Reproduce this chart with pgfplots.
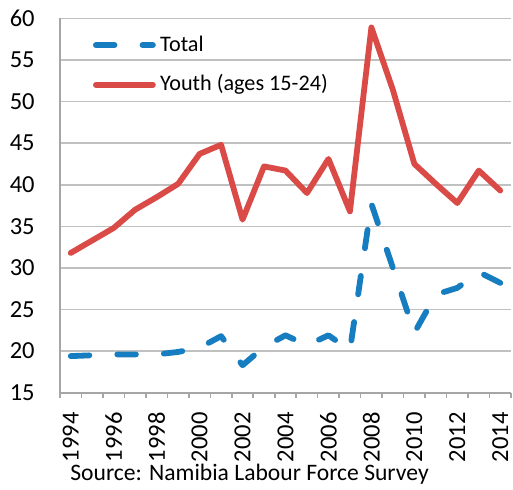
\documentclass[border=0pt]{standalone}
\usepackage{pgfplots}
\pgfplotsset{compat=1.18}
\usepackage{fontspec}
\setmainfont{Carlito}
\definecolor{cblue}{RGB}{22,125,192}
\definecolor{cred}{RGB}{218,75,72}
\definecolor{cgrid}{RGB}{192,192,192}
\definecolor{caxis}{RGB}{166,166,166}
\begin{document}
\fontsize{12.25}{14.7}\selectfont
\begin{tikzpicture}
\useasboundingbox (-30pt,-48.15pt) rectangle (226.5pt,196.35pt);
\begin{axis}[
  at={(0,0)}, anchor=south west,
  scale only axis, width=225.5pt, height=187.2pt,
  xmin=1993.5, xmax=2014.5, ymin=15, ymax=60,
  axis lines*=left,
  axis line style={draw=caxis, line width=0.8pt, -},
  ytick={15,20,...,60},
  xtick={1994,1996,...,2014},
  minor xtick={1993.5,1994.5,...,2014.5},
  major tick length=0pt, minor tick length=2.5pt,
  tick align=outside,
  minor tick style={draw=caxis, line width=0.8pt},
  ymajorgrids, grid style={draw=cgrid, line width=0.8pt},
  /pgf/number format/assume math mode=true,
  /pgf/number format/1000 sep={},
  ticklabel style={font=\fontsize{12.25}{14.7}\selectfont},
  yticklabel style={inner sep=0pt, anchor=east, xshift=-12.5pt},
  xticklabel style={inner sep=0pt, rotate=90, anchor=east, xshift=-9.65pt},
  legend style={draw=none, fill=none, at={([xshift=16.5pt,yshift=-7.3pt]rel axis cs:0,1)}, anchor=north west,
    inner sep=0pt, outer sep=0pt, row sep=7.6pt, column sep=2.2pt,
    nodes={inner sep=0pt, text height=0.75em, text depth=0.25em, font=\fontsize{11.1}{13.3}\selectfont}},
  legend cell align=left,
  legend image code/.code={\draw[#1] (0pt,0pt) -- (28.5pt,0pt);},
  clip=false,
]
\addplot[cblue, line width=2.9pt, line cap=round, line join=round, dash pattern=on 9.3pt off 14pt] coordinates {
(1994,19.4) (1995,19.5) (1996,19.6) (1997,19.6) (1998,19.6) (1999,19.9) (2000,20.4)
(2001,21.8) (2002,18.3) (2003,20.5) (2004,21.9) (2005,20.7) (2006,21.9) (2007,20.1)
(2008,37.7) (2009,30.0) (2010,22.2) (2011,26.8) (2012,27.6) (2013,29.5) (2014,28.2)};
\addlegendentry{Total}
\addplot[cred, line width=2.9pt, line cap=round, line join=round] coordinates {
(1994,31.8) (1995,33.3) (1996,34.8) (1997,37.0) (1998,38.5) (1999,40.1) (2000,43.7)
(2001,44.8) (2002,35.8) (2003,42.2) (2004,41.7) (2005,39.0) (2006,43.1) (2007,36.8)
(2008,58.9) (2009,51.4) (2010,42.5) (2011,40.1) (2012,37.8) (2013,41.7) (2014,39.3)};
\addlegendentry{Youth (ages 15-24)}
\end{axis}
\node[anchor=base west, inner sep=0pt, font=\fontsize{11.8}{14}\selectfont] at (5pt,-43.65pt) {Source: Namibia Labour Force Survey};
\end{tikzpicture}
\end{document}
